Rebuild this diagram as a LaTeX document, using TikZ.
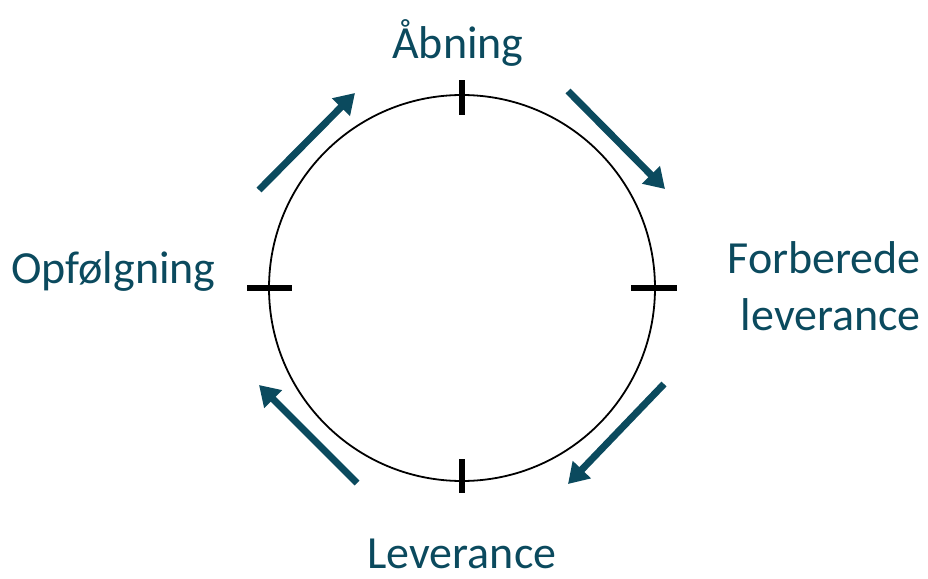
\documentclass[tikz,border=0pt]{standalone}
\usepackage{fontspec}
\setmainfont{Carlito}
\usetikzlibrary{arrows.meta}
\definecolor{teal1}{HTML}{0B4A5E}
\tikzset{
  lbl/.style={text=teal1,font=\fontsize{46}{57}\selectfont,inner sep=0pt},
  tick/.style={line width=6pt,black},
  flow/.style={line width=7pt,teal1,-{Triangle[length=20pt,width=24pt]}}
}
\begin{document}
\begin{tikzpicture}[x=1pt,y=-1pt]
\useasboundingbox (0,0) rectangle (928,578);
\node[circle,draw,line width=1.8pt,minimum size=386pt,inner sep=0pt] (c) at (462,288) {};
% ticks
\coordinate (t1) at (462,80); \coordinate (t2) at (462,115);
\coordinate (r1) at (631,288); \coordinate (r2) at (677,288);
\coordinate (b1) at (462,459); \coordinate (b2) at (462,493);
\coordinate (l1) at (247,288); \coordinate (l2) at (292,288);
\draw[tick] (t1) -- (t2);
\draw[tick] (r1) -- (r2);
\draw[tick] (b1) -- (b2);
\draw[tick] (l1) -- (l2);
% arrows
\coordinate (a1s) at (259,190); \coordinate (a1e) at (355,93);
\coordinate (a2s) at (568,91); \coordinate (a2e) at (665,189);
\coordinate (a3s) at (664,384); \coordinate (a3e) at (568,484);
\coordinate (a4s) at (357,483); \coordinate (a4e) at (259,385);
\draw[flow] (a1s) -- (a1e);
\draw[flow] (a2s) -- (a2e);
\draw[flow] (a3s) -- (a3e);
\draw[flow] (a4s) -- (a4e);
% labels
\node[lbl,anchor=base] (ab) at (458,59) {Åbning};
\node[lbl,anchor=base east,align=right] (fo) at (921,330) {Forberede\\leverance};
\node[lbl,anchor=base west] (op) at (11,283) {Opfølgning};
\node[lbl,anchor=base] (le) at (462,568) {Leverance};
\end{tikzpicture}
\end{document}
